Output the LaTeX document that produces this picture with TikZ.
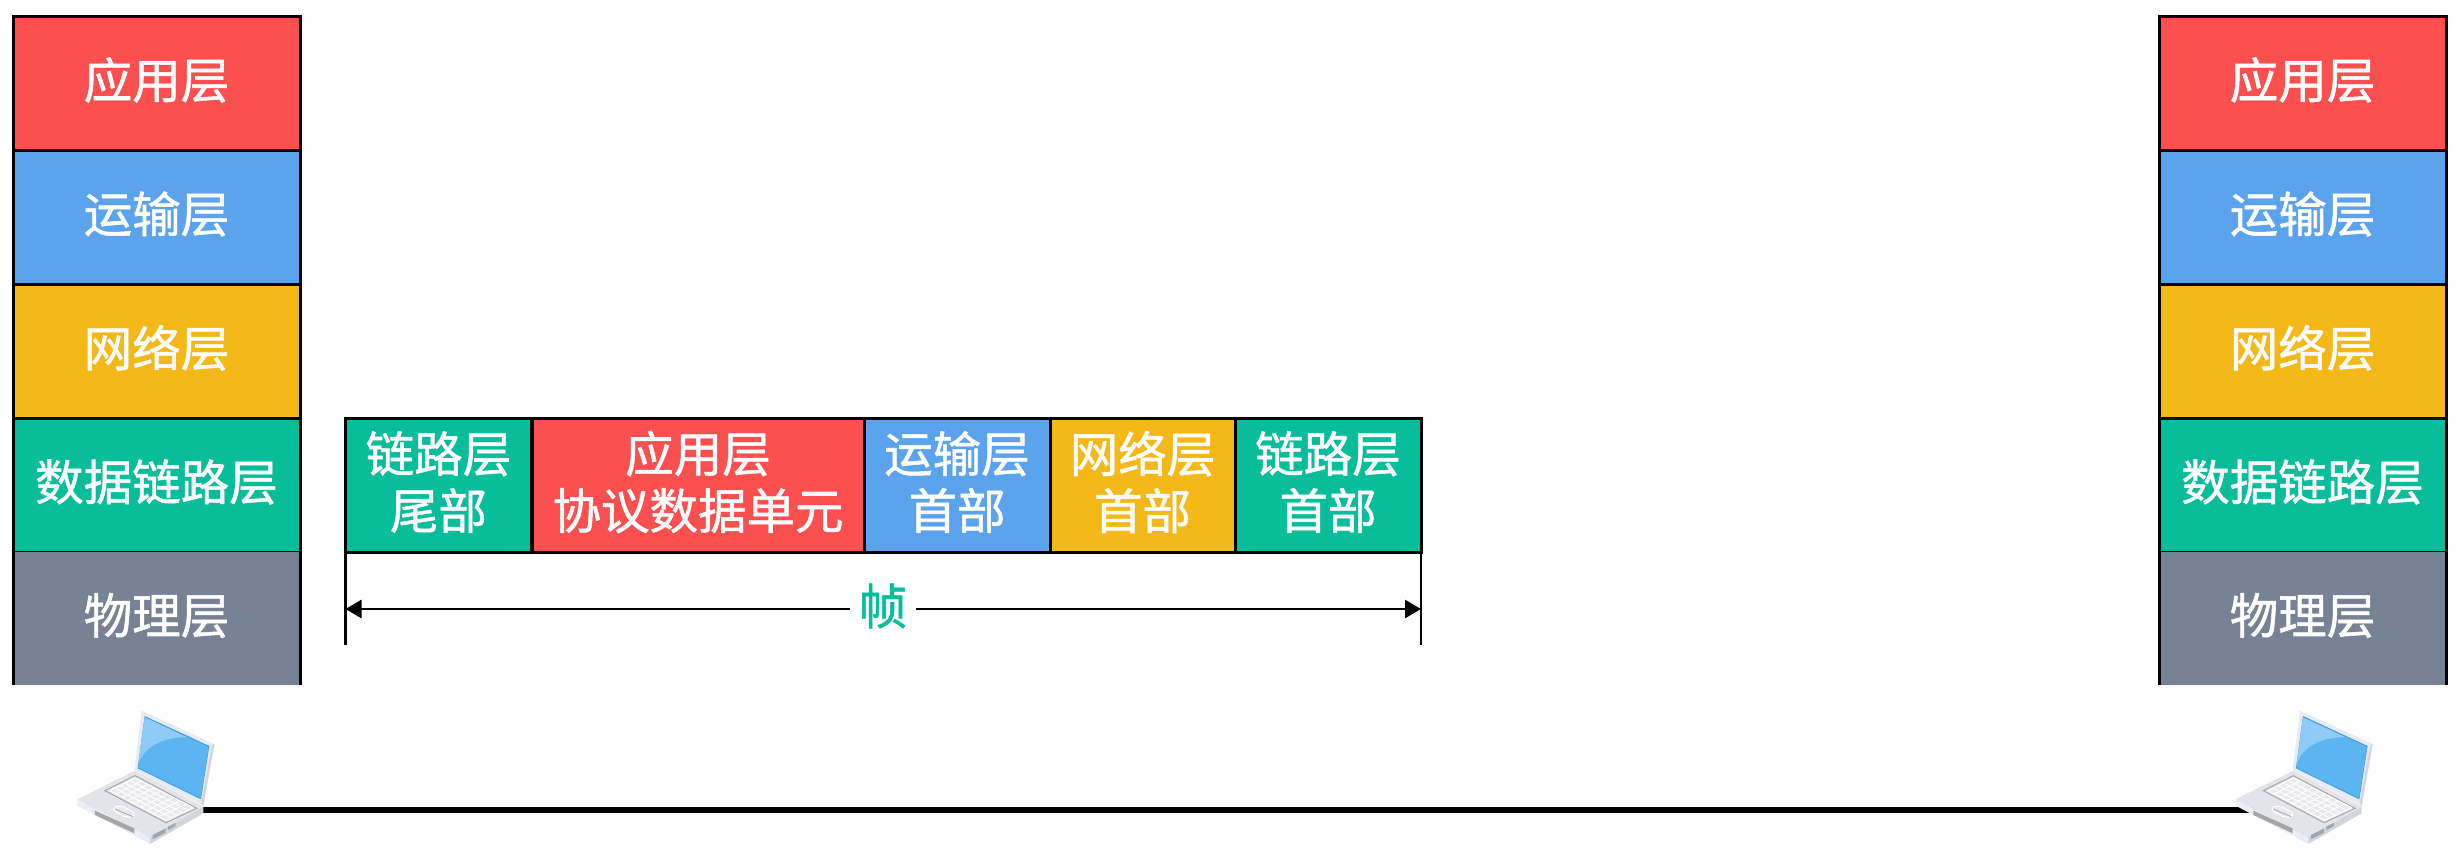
\documentclass[tikz,border=0pt]{standalone}
\usepackage{fontspec}
\usetikzlibrary{arrows.meta,calc}
\newfontfamily\cjk[FakeBold=1.1]{Noto Sans CJK SC}
\definecolor{cred}{HTML}{FC5050}
\definecolor{cblue}{HTML}{5BA3EC}
\definecolor{cyel}{HTML}{F4B919}
\definecolor{cgreen}{HTML}{08BD9A}
\definecolor{cgray}{HTML}{778395}
\definecolor{lapside}{HTML}{ECEEF5}
\definecolor{lapdark}{HTML}{D3D5DC}
\definecolor{laptop}{HTML}{E3E4EA}
\definecolor{lapkey}{HTML}{E8E8EE}
\definecolor{lapslot}{HTML}{A6A6A8}
\definecolor{laplid}{HTML}{E9EBF3}
\definecolor{lapedge}{HTML}{3A9FE6}
\definecolor{lapscreen}{HTML}{5CB5F1}
\definecolor{laphigh}{HTML}{8ECBF6}
\tikzset{
  lab/.style={font=\cjk\fontsize{48.5}{57}\selectfont,align=center,text=white,inner sep=0pt,outer sep=0pt,yshift=3pt},
  stackcell/.style={draw=black,line width=3pt,inner sep=0pt,outer sep=0pt,minimum width=287pt,minimum height=134pt},
  barefill/.style={inner sep=0pt,outer sep=0pt,minimum width=287pt,minimum height=133pt},
  framecell/.style={draw=black,line width=3pt,inner sep=0pt,outer sep=0pt,minimum height=134pt},
  tick/.style={draw=black,line width=2.6pt},
  sideline/.style={draw=black,line width=3pt},
  dim/.style={draw=black,line width=2.6pt,-{Triangle[length=16pt,width=18pt]}},
  link/.style={draw=black,line width=5.5pt},
  pics/laptop/.style={code={
    \begin{scope}[x=0.33333pt,y=-0.33333pt]
      \fill[lapside] (232,478)--(232,497)--(450,612)--(452,590)--cycle;
      \fill[lapdark] (450,612)--(610,520)--(610,500)--(450,590)--cycle;
      \fill[laptop] (232,478)--(405,392)--(610,500)--(450,592)--cycle;
      \fill[lapkey,draw=lapslot,line width=1pt] (315,452)--(405,407)--(590,505)--(498,548)--cycle;
      \coordinate (kl) at (330,452); \coordinate (kt) at (405,414);
      \coordinate (kr) at (580,503); \coordinate (kb) at (498,541);
      \foreach \t in {0,0.2,0.4,0.6,0.8,1}
        \draw[white,line width=1pt] ($(kl)!\t!(kt)$)--($(kb)!\t!(kr)$);
      \foreach \t in {0,0.11,0.22,0.33,0.44,0.55,0.66,0.77,0.88,1}
        \draw[white,line width=1pt] ($(kl)!\t!(kb)$)--($(kt)!\t!(kr)$);
      \fill[lapkey,draw=white,line width=1pt,rounded corners=5pt] (333,508)--(358,495)--(411,521)--(386,536)--cycle;
      \draw[lapslot,line width=.8pt] (345,507)--(398,530);
      \fill[lapslot] (285,512)--(403,565)--(403,580)--(285,525)--cycle;
      \fill[lapslot] (458,585)--(497,565)--(497,578)--(458,598)--cycle;
      \fill[lapslot] (503,560)--(527,548)--(527,558)--(505,570)--cycle;
      \fill[laplid] (425,212)--(643,312)--(610,498)--(403,390)--cycle;
      \fill[lapdark] (636,316)--(643,312)--(610,498)--(604,490)--cycle;
      \fill[lapedge] (434,228)--(628,318)--(603,478)--(413,385)--cycle;
      \fill[lapscreen] (434,232)--(626,321)--(602,474)--(415,383)--cycle;
      \fill[laphigh] (434,232)--(560,291) .. controls (490,293) and (438,315) .. (415,370)--cycle;
    \end{scope}
  }},
}
\begin{document}
\begin{tikzpicture}[x=1pt,y=-1pt]
\useasboundingbox (0,0) rectangle (2460,860);
\fill[white] (0,0) rectangle (2460,860);
% connecting line (runs under the right laptop)
\coordinate (pcL) at (203,810);
\coordinate (pcR) at (2260,810);
\draw[link] (pcL) -- (pcR);
\pic at (0,640) {laptop};
\pic at (2158.3,640) {laptop};
% left stack
\node[stackcell,fill=cred,label={[lab,name=lat]center:应用层}]   (la) at (156.5,83)  {};
\node[stackcell,fill=cblue,label={[lab,name=ltt]center:运输层}]  (lt) at (156.5,217) {};
\node[stackcell,fill=cyel,label={[lab,name=lnt]center:网络层}]   (ln) at (156.5,351) {};
\node[stackcell,fill=cgreen,label={[lab,name=ldt]center:数据链路层}] (ld) at (156.5,485) {};
\node[barefill,fill=cgray,label={[lab,name=lpt]center:物理层}]   (lp) at (156.5,618.5) {};
\draw[sideline] (lp.north west) -- (lp.south west);
\draw[sideline] (lp.north east) -- (lp.south east);
% right stack
\node[stackcell,fill=cred,label={[lab,name=rat]center:应用层}]   (ra) at (2302.5,83)  {};
\node[stackcell,fill=cblue,label={[lab,name=rtt]center:运输层}]  (rt) at (2302.5,217) {};
\node[stackcell,fill=cyel,label={[lab,name=rnt]center:网络层}]   (rn) at (2302.5,351) {};
\node[stackcell,fill=cgreen,label={[lab,name=rdt]center:数据链路层}] (rd) at (2302.5,485) {};
\node[barefill,fill=cgray,label={[lab,name=rpt]center:物理层}]   (rp) at (2302.5,618.5) {};
\draw[sideline] (rp.north west) -- (rp.south west);
\draw[sideline] (rp.north east) -- (rp.south east);
% frame
\node[framecell,fill=cgreen,minimum width=186pt,label={[lab,name=f1t]center:{链路层\\尾部}}] (f1) at (438.5,485) {};
\node[framecell,fill=cred,minimum width=332pt,label={[lab,name=f2t]center:{应用层\\协议数据单元}}]   (f2) at (698,485)   {};
\node[framecell,fill=cblue,minimum width=186pt,label={[lab,name=f3t]center:{运输层\\首部}}]  (f3) at (957,485)   {};
\node[framecell,fill=cyel,minimum width=185pt,label={[lab,name=f4t]center:{网络层\\首部}}]   (f4) at (1142.5,485){};
\node[framecell,fill=cgreen,minimum width=186pt,label={[lab,name=f5t]center:{链路层\\首部}}] (f5) at (1328,485)  {};
% dimension
\coordinate (tl) at (345.5,645);
\coordinate (tr) at (1421,645);
\draw[tick] (f1.south west) -- (tl);
\draw[tick] (f5.south east) -- (tr);
\coordinate (al) at (345.5,609);
\coordinate (ar) at (1421,609);
\node[font=\cjk\fontsize{48.5}{58}\selectfont,text=cgreen,inner sep=0pt,minimum width=66pt] (fl) at (883,606) {帧};
\draw[dim] (fl.west |- al) -- (al);
\draw[dim] (fl.east |- ar) -- (ar);
\end{tikzpicture}
\end{document}
